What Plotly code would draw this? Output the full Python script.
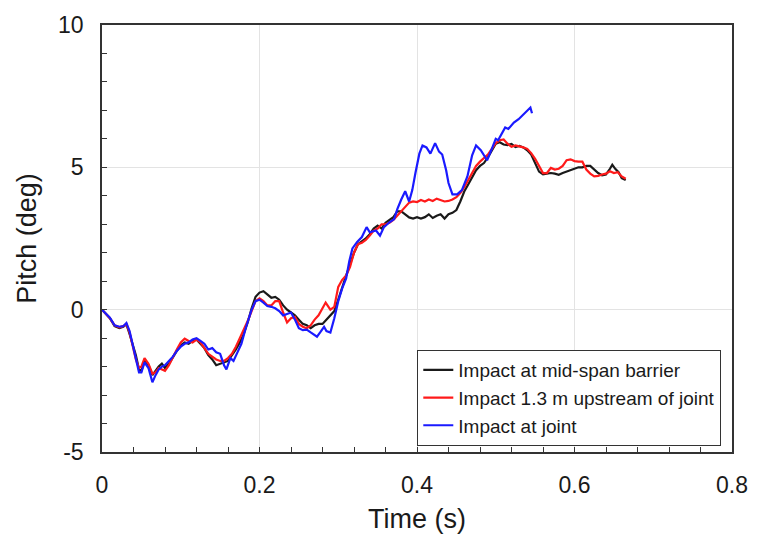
import plotly.graph_objects as go

# ---- data ----
t_mid = [0, 0.005, 0.01, 0.016, 0.022, 0.027, 0.031, 0.035, 0.039, 0.043, 0.047, 0.05, 0.054, 0.059, 0.064, 0.068,
         0.072, 0.076, 0.08, 0.085, 0.09, 0.095, 0.1, 0.105, 0.11, 0.115, 0.12, 0.125, 0.13, 0.135, 0.14, 0.145,
         0.15, 0.155, 0.16, 0.165, 0.17, 0.175, 0.18, 0.185, 0.19, 0.195, 0.2, 0.205, 0.21, 0.215, 0.22, 0.225,
         0.23, 0.235, 0.24, 0.245, 0.25, 0.255, 0.26, 0.265, 0.27, 0.275, 0.28, 0.285, 0.29, 0.295, 0.3, 0.305,
         0.31, 0.315, 0.32, 0.325, 0.33, 0.335, 0.34, 0.345, 0.35, 0.355, 0.36, 0.365, 0.37, 0.375, 0.38, 0.385,
         0.39, 0.395, 0.4, 0.405, 0.41, 0.415, 0.42, 0.425, 0.43, 0.435, 0.44, 0.445, 0.45, 0.455, 0.46, 0.465,
         0.47, 0.475, 0.48, 0.485, 0.49, 0.495, 0.5, 0.505, 0.51, 0.515, 0.52, 0.525, 0.53, 0.535, 0.54, 0.545,
         0.55, 0.555, 0.56, 0.565, 0.57, 0.575, 0.58, 0.585, 0.59, 0.595, 0.6, 0.605, 0.61, 0.615, 0.62, 0.625,
         0.63, 0.635, 0.64, 0.645, 0.648, 0.652, 0.656, 0.66, 0.665]
y_mid = [0, -0.15, -0.3, -0.58, -0.65, -0.6, -0.52, -0.85, -1.2, -1.6, -2.1, -2.15, -1.8, -1.95, -2.3, -2.15,
         -2.0, -1.9, -2.05, -1.9, -1.65, -1.45, -1.25, -1.15, -1.2, -1.1, -1.05, -1.2, -1.35, -1.6, -1.75, -1.95,
         -1.9, -1.85, -1.8, -1.6, -1.4, -1.15, -0.85, -0.45, 0.05, 0.45, 0.6, 0.65, 0.55, 0.42, 0.45, 0.35,
         0.15, 0.0, -0.1, -0.2, -0.35, -0.5, -0.55, -0.65, -0.55, -0.5, -0.5, -0.35, -0.2, -0.05, 0.35, 0.8,
         1.2, 1.6, 2.0, 2.3, 2.4, 2.5, 2.65, 2.85, 2.95, 2.85, 3.05, 3.15, 3.25, 3.45, 3.45, 3.35,
         3.24, 3.2, 3.25, 3.2, 3.25, 3.35, 3.22, 3.3, 3.35, 3.2, 3.35, 3.4, 3.5, 3.8, 4.15, 4.4,
         4.68, 4.9, 5.05, 5.15, 5.35, 5.6, 5.83, 5.88, 5.8, 5.78, 5.82, 5.71, 5.75, 5.7, 5.6, 5.45,
         5.14, 4.85, 4.75, 4.78, 4.8, 4.78, 4.74, 4.8, 4.85, 4.9, 4.97, 5.0, 5.0, 5.05, 5.05, 4.92,
         4.8, 4.72, 4.75, 4.95, 5.09, 4.94, 4.83, 4.62, 4.55]

t_up = [0, 0.005, 0.01, 0.016, 0.022, 0.027, 0.031, 0.035, 0.039, 0.043, 0.047, 0.05, 0.054, 0.059, 0.064, 0.068,
        0.072, 0.076, 0.08, 0.085, 0.09, 0.095, 0.1, 0.105, 0.11, 0.115, 0.12, 0.125, 0.13, 0.135, 0.14, 0.145,
        0.15, 0.155, 0.16, 0.165, 0.17, 0.175, 0.18, 0.185, 0.19, 0.195, 0.2, 0.205, 0.21, 0.215, 0.22, 0.225,
        0.23, 0.235, 0.24, 0.245, 0.25, 0.255, 0.26, 0.265, 0.27, 0.275, 0.28, 0.284, 0.29, 0.295, 0.3, 0.305,
        0.31, 0.315, 0.32, 0.325, 0.33, 0.335, 0.34, 0.345, 0.35, 0.355, 0.36, 0.365, 0.37, 0.375, 0.38, 0.385,
        0.39, 0.395, 0.4, 0.405, 0.41, 0.415, 0.42, 0.425, 0.43, 0.435, 0.44, 0.445, 0.45, 0.455, 0.46, 0.465,
        0.47, 0.475, 0.48, 0.485, 0.49, 0.495, 0.5, 0.505, 0.51, 0.515, 0.52, 0.525, 0.53, 0.535, 0.54, 0.545,
        0.55, 0.555, 0.56, 0.565, 0.57, 0.575, 0.58, 0.585, 0.59, 0.595, 0.6, 0.605, 0.61, 0.615, 0.62, 0.625,
        0.63, 0.635, 0.64, 0.645, 0.65, 0.655, 0.66, 0.665]
y_up = [0, -0.15, -0.3, -0.55, -0.62, -0.58, -0.5, -0.8, -1.3, -1.75, -2.05, -2.0, -1.7, -1.9, -2.25, -2.2,
        -2.05, -2.1, -2.15, -1.95, -1.65, -1.4, -1.15, -1.02, -1.1, -1.15, -1.05, -1.15, -1.35, -1.55, -1.65, -1.75,
        -1.8, -1.8, -1.7, -1.55, -1.3, -1.0, -0.75, -0.4, -0.05, 0.3, 0.4, 0.3, 0.15, 0.15, 0.3, 0.3,
        -0.1, -0.45, -0.3, -0.25, -0.5, -0.6, -0.65, -0.55, -0.35, -0.2, 0.05, 0.25, 0.0, 0.1, 0.8, 1.05,
        1.2, 1.5, 2.0, 2.3, 2.35, 2.45, 2.6, 2.78, 2.85, 3.0, 3.0, 3.05, 3.15, 3.3, 3.45, 3.6,
        3.76, 3.8, 3.78, 3.85, 3.8, 3.87, 3.82, 3.9, 3.85, 3.8, 3.82, 3.87, 3.95, 4.1, 4.3, 4.55,
        4.75, 5.05, 5.2, 5.31, 5.45, 5.65, 5.85, 5.95, 5.98, 5.83, 5.72, 5.77, 5.74, 5.7, 5.65, 5.5,
        5.3, 5.05, 4.8, 4.8, 4.98, 4.92, 4.95, 5.05, 5.25, 5.28, 5.22, 5.2, 5.2, 4.92, 4.78, 4.68,
        4.7, 4.75, 4.78, 4.86, 4.8, 4.83, 4.68, 4.6]

t_joint = [0, 0.005, 0.01, 0.016, 0.022, 0.027, 0.031, 0.035, 0.039, 0.043, 0.047, 0.05, 0.054, 0.059, 0.064, 0.068,
           0.072, 0.076, 0.08, 0.085, 0.09, 0.095, 0.1, 0.105, 0.11, 0.115, 0.12, 0.125, 0.13, 0.135, 0.14, 0.145,
           0.15, 0.155, 0.158, 0.163, 0.167, 0.172, 0.177, 0.183, 0.19, 0.195, 0.2, 0.205, 0.21, 0.215, 0.22, 0.225,
           0.23, 0.235, 0.24, 0.245, 0.25, 0.255, 0.26, 0.265, 0.27, 0.273, 0.277, 0.282, 0.285, 0.29, 0.295, 0.3,
           0.305, 0.31, 0.314, 0.318, 0.324, 0.33, 0.336, 0.34, 0.348, 0.353, 0.358, 0.365, 0.371, 0.375, 0.38, 0.385,
           0.39, 0.394, 0.398, 0.403, 0.407, 0.412, 0.417, 0.423, 0.428, 0.432, 0.437, 0.44, 0.445, 0.451, 0.457, 0.464,
           0.47, 0.475, 0.481, 0.485, 0.489, 0.495, 0.5, 0.503, 0.508, 0.512, 0.516, 0.523, 0.529, 0.535, 0.54, 0.544,
           0.546]
y_joint = [0, -0.15, -0.28, -0.55, -0.6, -0.58, -0.47, -0.75, -1.25, -1.8, -2.2, -2.2, -1.85, -2.05, -2.55, -2.3,
           -2.1, -2.0, -1.95, -1.8, -1.65, -1.45, -1.3, -1.2, -1.15, -1.05, -1.0, -1.1, -1.2, -1.4, -1.35, -1.5,
           -1.55, -1.95, -2.1, -1.7, -1.8, -1.5, -1.2, -0.6, 0.0, 0.3, 0.35, 0.25, 0.13, 0.1, 0.05, -0.05,
           -0.2, -0.15, -0.1, -0.35, -0.65, -0.72, -0.7, -0.8, -0.9, -0.95, -0.8, -0.6, -0.75, -0.8, -0.3, 0.3,
           0.75, 1.1, 1.7, 2.15, 2.38, 2.55, 2.9, 2.72, 2.78, 2.6, 2.9, 3.07, 3.18, 3.53, 3.87, 4.16,
           3.8, 4.2, 4.8, 5.48, 5.77, 5.7, 5.48, 5.85, 5.55, 5.45, 4.9, 4.45, 4.05, 4.05, 4.2, 4.68,
           5.42, 5.77, 5.6, 5.4, 5.25, 5.65, 6.0, 5.95, 6.23, 6.4, 6.35, 6.57, 6.69, 6.86, 6.98, 7.1,
           6.9]

series_names = ["Impact at mid-span barrier", "Impact 1.3 m upstream of joint", "Impact at joint"]
series_colors = ["#1a1a1a", "#ff1a1a", "#1a1aff"]

x_ticks = [0, 0.2, 0.4, 0.6, 0.8]
x_tick_labels = ["0", "0.2", "0.4", "0.6", "0.8"]
y_ticks = [-5, 0, 5, 10]
y_tick_labels = ["-5", "0", "5", "10"]

FONT = "Liberation Sans, Arial, sans-serif"

fig = go.Figure()
for tx, ty, name, col in zip([t_mid, t_up, t_joint], [y_mid, y_up, y_joint], series_names, series_colors):
    fig.add_trace(go.Scatter(x=tx, y=ty, mode="lines", name=name,
                             line=dict(color=col, width=2.2)))

axis_common = dict(
    showline=True, linecolor="#333333", linewidth=1.5, mirror=True,
    ticks="inside", ticklen=5, tickcolor="#333333", tickwidth=1.2,
    showgrid=True, gridcolor="#e3e3e3", gridwidth=1,
    zeroline=False,
    tickfont=dict(family=FONT, size=23, color="#1a1a1a"),
    ticklabelstandoff=12,
)

fig.update_xaxes(range=[0, 0.8], tickvals=x_ticks, ticktext=x_tick_labels,
                 minor=dict(dtick=0.04, ticks="inside", ticklen=5, tickcolor="#333333", showgrid=False),
                 title=dict(text="Time (s)", font=dict(family=FONT, size=27, color="#1a1a1a"), standoff=12),
                 **axis_common)
fig.update_yaxes(range=[-5, 10], tickvals=y_ticks, ticktext=y_tick_labels,
                 minor=dict(dtick=1, ticks="inside", ticklen=5, tickcolor="#333333", showgrid=False),
                 title=dict(text="Pitch (deg)", font=dict(family=FONT, size=27, color="#1a1a1a"), standoff=14),
                 **axis_common)

fig.update_layout(
    width=760, height=546,
    margin=dict(l=102, r=26, t=18, b=94),
    plot_bgcolor="white", paper_bgcolor="white",
    legend=dict(x=0.983, y=0.014, xanchor="right", yanchor="bottom",
                bgcolor="white", bordercolor="#333333", borderwidth=1,
                font=dict(family=FONT, size=19, color="#1a1a1a"),
                itemwidth=30, tracegroupgap=0),
    showlegend=True,
)

fig.write_html("out.html")
